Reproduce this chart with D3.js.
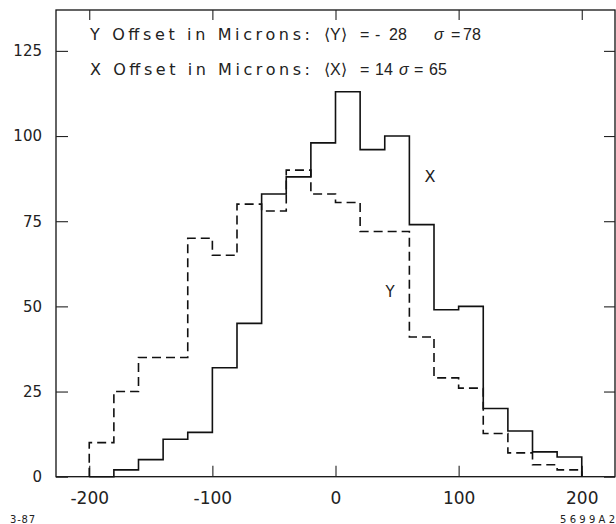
<!DOCTYPE html>
<html>
<head>
<meta charset="utf-8">
<script src="https://cdn.jsdelivr.net/npm/d3@7"></script>
<style>
  html, body { margin: 0; padding: 0; background: #fff; }
  svg text { font-family: "DejaVu Sans", "Liberation Sans", sans-serif; fill: #222; }
</style>
</head>
<body>
<svg id="chart" width="616" height="524"></svg>
<script>
// ---- data ----
const binStarts = [-200, -180, -160, -140, -120, -100, -80, -60, -40, -20,
                   0, 20, 40, 60, 80, 100, 120, 140, 160, 180];
const binWidth = 20;
const xOffsetCounts = [0, 2, 5, 11, 13, 32, 45, 83, 88, 98,
                       113, 96, 100, 74, 49, 50, 20, 13.4, 7.3, 5.8];
const yOffsetCounts = [10, 25, 35, 35, 70, 65, 80, 78, 90, 83,
                       80.5, 72, 72, 41, 29, 26, 12.7, 7, 3.5, 2];
const xTicks = [-200, -100, 0, 100, 200];
const yTicks = [0, 25, 50, 75, 100, 125];
const legendY = ["Y Offset in Microns:", "\u27E8Y\u27E9", "=", "-", "28", "\u03C3", "=", "78"];
const legendX = ["X Offset in Microns:", "\u27E8X\u27E9", "=", "", "14", "\u03C3", "=", "65"];
const footLeft = "3-87";
const footRight = "5699A2";

// ---- layout ----
const L = 56, R = 615, T = 10, B = 476.7;
const svg = d3.select("#chart");
const x = d3.scaleLinear().domain([-227, 227]).range([L, R]);
const y = d3.scaleLinear().domain([0, 137]).range([B, T]);

// frame
svg.append("rect").attr("x", L).attr("y", T).attr("width", R - L).attr("height", B - T)
  .attr("fill", "none").attr("stroke", "#111").attr("stroke-width", 1.3);

// axes
const gB = svg.append("g").attr("transform", `translate(0,${B})`)
  .call(d3.axisBottom(x).tickValues(xTicks).tickSizeInner(-11).tickSizeOuter(0)
        .tickPadding(15).tickFormat(d => String(d)));
const gT = svg.append("g").attr("transform", `translate(0,${T})`)
  .call(d3.axisTop(x).tickValues(xTicks).tickSizeInner(-10).tickSizeOuter(0).tickFormat(""));
const gL = svg.append("g").attr("transform", `translate(${L},0)`)
  .call(d3.axisLeft(y).tickValues(yTicks).tickSizeInner(-12).tickSizeOuter(0)
        .tickPadding(14).tickFormat(d => String(d)));
const gR = svg.append("g").attr("transform", `translate(${R},0)`)
  .call(d3.axisRight(y).tickValues(yTicks).tickSizeInner(-11).tickSizeOuter(0).tickFormat(""));
[gB, gT, gL, gR].forEach(g => {
  g.select(".domain").remove();
  g.selectAll(".tick line").attr("stroke", "#222").attr("stroke-width", 1.1);
  g.selectAll("text").attr("fill", "#222").style("font-family", "DejaVu Sans, sans-serif");
});
gB.selectAll("text").style("font-size", "17px");
gL.selectAll("text").style("font-size", "15px");

// histograms
function stepPoints(counts) {
  const pts = [[binStarts[0], 0]];
  binStarts.forEach((s, i) => pts.push([s, counts[i]]));
  pts.push([binStarts[binStarts.length - 1] + binWidth, 0]);
  return pts;
}
const line = d3.line().x(d => x(d[0])).y(d => y(d[1])).curve(d3.curveStepAfter);
svg.append("path").datum(stepPoints(yOffsetCounts)).attr("d", line)
  .attr("fill", "none").attr("stroke", "#111").attr("stroke-width", 1.6)
  .attr("stroke-dasharray", "9,5");
svg.append("path").datum(stepPoints(xOffsetCounts)).attr("d", line)
  .attr("fill", "none").attr("stroke", "#111").attr("stroke-width", 1.6);

// curve labels
svg.append("text").attr("x", 430).attr("y", 182).attr("text-anchor", "middle")
  .style("font-size", "16px").text("X");
svg.append("text").attr("x", 390).attr("y", 297).attr("text-anchor", "middle")
  .style("font-size", "15px").text("Y");

// legend lines: each token placed at the start position
function legendLine(parts, base, xs) {
  const t = svg.append("text").attr("y", base).style("font-size", "16px");
  t.append("tspan").attr("x", xs[0]).attr("textLength", 220)
    .attr("lengthAdjust", "spacing").text(parts[0]);
  parts.slice(1).forEach((p, i) => {
    if (!p) return;
    const s = t.append("tspan").attr("x", xs[i + 1]).text(p)
      .style("font-family", "Liberation Sans, Arial, sans-serif");
    if (p === "\u03C3") s.style("font-style", "italic");
  });
}
legendLine(legendY, 40, [90, 324, 360, 375, 389, 434, 451, 463]);
legendLine(legendX, 75, [90, 324, 360, 0, 375, 399, 414, 429]);

// footer
svg.append("text").attr("x", 10).attr("y", 523).style("font-size", "10px")
  .attr("textLength", 25).attr("lengthAdjust", "spacing").text(footLeft);
svg.append("text").attr("x", 560).attr("y", 523).style("font-size", "10px")
  .attr("textLength", 55).attr("lengthAdjust", "spacing").text(footRight);
</script>
</body>
</html>
